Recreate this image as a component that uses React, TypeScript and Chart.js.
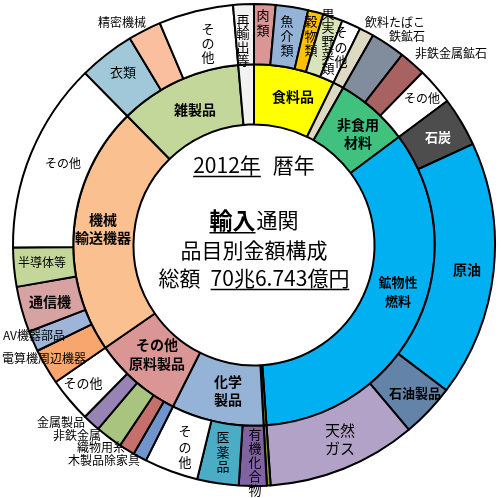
import React, { useEffect, useRef } from 'react';
import { Chart, registerables } from 'chart.js';
Chart.register(...registerables);

// ---- data (share of total, %) ----
const innerCategories = ['食料品', '飲料たばこ', '非食用材料', '鉱物性燃料', '動植物性油脂', '化学製品', 'その他原料製品', '機械輸送機器', '雑製品', '再輸出等'];
const innerValues = [7.25, 0.97, 6.59, 34.09, 0.25, 8.25, 7.98, 22.26, 10.97, 1.39];
const innerColors = ['#ffff00', '#ddd9c3', '#40c27e', '#00b0f0', '#8a9a3c', '#95b3d7', '#da9694', '#fac090', '#c4d79b', '#f2f2f2'];

const outerCategories = [
  '肉類', '魚介類', '穀物類', '果実野菜類', 'その他(食料)',
  '飲料たばこ',
  '鉄鉱石', '非鉄金属鉱石', 'その他(原料)',
  '石炭', '原油', '石油製品', '天然ガス',
  '動植物性油脂',
  '有機化合物', '医薬品', 'その他(化学)',
  '木製品除家具', '織物用糸', '非鉄金属', '金属製品', 'その他(原料製品)',
  '電算機周辺機器', 'AV機器部品', '通信機', '半導体等', 'その他(機械)',
  '衣類', '精密機械', 'その他(雑製品)',
  '再輸出等',
];
const outerValues = [
  1.44, 2.17, 1.03, 1.33, 1.28,
  0.97,
  2.31, 1.78, 2.5,
  3.31, 17.17, 3.61, 10.0,
  0.25,
  1.86, 2.78, 3.61,
  0.92, 1.06, 1.81, 1.19, 3.0,
  2.39, 1.39, 3.06, 2.61, 12.81,
  3.75, 2.22, 5.0,
  1.39,
];
const outerColors = [
  '#da9694', '#95b3d7', '#ffc000', '#d8e4bc', '#ffffff',
  '#ddd9c3',
  '#818d9d', '#a96262', '#ffffff',
  '#4d4d4d', '#00b0f0', '#6384a8', '#b3a2c7',
  '#8a9a3c',
  '#8064a2', '#4bacc6', '#ffffff',
  '#7094cc', '#c6706e', '#a9c47f', '#9884b4', '#ffffff',
  '#f8a66e', '#9fb4d9', '#d7a2a2', '#c4d79b', '#ffffff',
  '#a0c8d8', '#f9bf9f', '#ffffff',
  '#f2f2f2',
];

// ---- label layout (reference picture coords; converted relative to chart centre) ----
const REF_CX = 254;
const REF_CY = 245;
type Lbl = { t: string; x: number; y: number; size: number; bold?: boolean; color?: string; vertical?: boolean; step?: number; lh?: number };
const labels: Lbl[] = [
  // inner ring
  { t: '食料品', x: 293, y: 97, size: 14, bold: true },
  { t: '非食用\n材料', x: 358, y: 134, size: 14, bold: true, lh: 18 },
  { t: '鉱物性\n燃料', x: 398, y: 292, size: 13, bold: true, lh: 19 },
  { t: '化学\n製品', x: 228, y: 391, size: 14, bold: true, lh: 18 },
  { t: 'その他\n原料製品', x: 157, y: 354, size: 14, bold: true, lh: 19 },
  { t: '機械\n輸送機器', x: 103, y: 229, size: 14, bold: true, lh: 18 },
  { t: '雑製品', x: 195, y: 110, size: 14, bold: true },
  // outer ring
  { t: '再輸出等', x: 243, y: 40, size: 13, vertical: true, step: 13.5 },
  { t: '肉類', x: 263, y: 23, size: 13, vertical: true, step: 15 },
  { t: '魚介類', x: 287, y: 36, size: 13, vertical: true, step: 14.5 },
  { t: '穀物類', x: 311, y: 36, size: 13, vertical: true, step: 14.5 },
  { t: '果実野菜類', x: 328, y: 41, size: 13, vertical: true, step: 13.5 },
  { t: 'その他', x: 341, y: 47, size: 13, vertical: true, step: 14.5 },
  { t: '飲料たばこ', x: 395, y: 22, size: 12 },
  { t: '鉄鉱石', x: 407, y: 36, size: 12 },
  { t: '非鉄金属鉱石', x: 451, y: 53, size: 12 },
  { t: 'その他', x: 422, y: 98, size: 12 },
  { t: '石炭', x: 438, y: 137, size: 13, bold: true, color: '#ffffff' },
  { t: '原油', x: 467, y: 270, size: 14, bold: true },
  { t: '石油製品', x: 415, y: 393, size: 13, bold: true },
  { t: '天然\nガス', x: 340, y: 439, size: 15, lh: 18 },
  { t: '有機化合物', x: 255, y: 462, size: 13, vertical: true, step: 14 },
  { t: '医薬品', x: 223, y: 452, size: 13, vertical: true, step: 14.5 },
  { t: 'その他', x: 185, y: 447, size: 13, vertical: true, step: 15.5 },
  { t: '木製品除家具', x: 104, y: 460, size: 12 },
  { t: '織物用糸', x: 101, y: 447, size: 12 },
  { t: '非鉄金属', x: 77, y: 435, size: 12 },
  { t: '金属製品', x: 61, y: 422, size: 12 },
  { t: 'その他', x: 83, y: 383, size: 13 },
  { t: '電算機周辺機器', x: 44, y: 358, size: 12 },
  { t: 'AV機器部品', x: 34, y: 335, size: 12 },
  { t: '通信機', x: 50, y: 302, size: 14, bold: true },
  { t: '半導体等', x: 42, y: 262, size: 12 },
  { t: 'その他', x: 63, y: 163, size: 12 },
  { t: '衣類', x: 123, y: 72, size: 13 },
  { t: '精密機械', x: 122, y: 22, size: 12 },
  { t: 'その他', x: 208, y: 43, size: 13, vertical: true, step: 14 },
];

type Seg = { t: string; size: number; bold?: boolean; u?: boolean; gap?: number };
const centerLines: { y: number; segs: Seg[] }[] = [
  { y: 165, segs: [{ t: '2012年', size: 21, u: true }, { t: '暦年', size: 21, gap: 12 }] },
  { y: 220, segs: [{ t: '輸入', size: 23, bold: true, u: true }, { t: '通関', size: 21, gap: 1 }] },
  { y: 250, segs: [{ t: '品目別金額構成', size: 21 }] },
  { y: 278, segs: [{ t: '総額', size: 21 }, { t: '70兆6.743億円', size: 21, u: true, gap: 10 }] },
];

const FONT = "'Noto Sans CJK JP', 'Noto Sans', sans-serif";

const labelPlugin = {
  id: 'labelPlugin',
  afterDatasetsDraw(chart: any) {
    const ctx = chart.ctx as CanvasRenderingContext2D;
    const arc = chart.getDatasetMeta(0).data[0];
    const cx = arc.x;
    const cy = arc.y;
    ctx.save();
    ctx.textAlign = 'center';
    ctx.textBaseline = 'middle';
    for (const l of labels) {
      ctx.font = `${l.bold ? 'bold ' : ''}${l.size}px ${FONT}`;
      ctx.fillStyle = l.color || '#000000';
      const x = cx + (l.x - REF_CX);
      const y = cy + (l.y - REF_CY);
      if (l.vertical) {
        const chars = Array.from(l.t);
        const step = l.step || l.size + 1;
        const y0 = y - ((chars.length - 1) * step) / 2;
        chars.forEach((c, i) => ctx.fillText(c, x, y0 + i * step));
      } else {
        const lines = l.t.split('\n');
        const lh = l.lh || l.size + 4;
        const y0 = y - ((lines.length - 1) * lh) / 2;
        lines.forEach((s, i) => ctx.fillText(s, x, y0 + i * lh));
      }
    }
    // centre text
    ctx.textAlign = 'left';
    for (const line of centerLines) {
      let total = 0;
      const widths: number[] = [];
      for (const s of line.segs) {
        ctx.font = `${s.bold ? 'bold ' : ''}${s.size}px ${FONT}`;
        const w = ctx.measureText(s.t).width;
        widths.push(w);
        total += w + (s.gap || 0);
      }
      let x = cx - total / 2;
      const y = cy + (line.y - REF_CY);
      line.segs.forEach((s, i) => {
        x += s.gap || 0;
        ctx.font = `${s.bold ? 'bold ' : ''}${s.size}px ${FONT}`;
        ctx.fillStyle = '#000000';
        ctx.fillText(s.t, x, y);
        if (s.u) {
          ctx.strokeStyle = '#000000';
          ctx.lineWidth = 1.5;
          ctx.beginPath();
          ctx.moveTo(x, y + s.size * 0.55);
          ctx.lineTo(x + widths[i], y + s.size * 0.55);
          ctx.stroke();
        }
        x += widths[i];
      });
    }
    ctx.restore();
  },
};

export default function App() {
  const ref = useRef<HTMLCanvasElement | null>(null);
  useEffect(() => {
    if (!ref.current) return;
    const chart = new Chart(ref.current, {
      type: 'doughnut',
      data: {
        labels: outerCategories,
        datasets: [
          { label: 'outer', data: outerValues, backgroundColor: outerColors, borderColor: '#000000', borderWidth: 2 },
          { label: 'inner', data: innerValues, backgroundColor: innerColors, borderColor: '#000000', borderWidth: 2 },
        ],
      },
      options: {
        responsive: false,
        animation: false,
        cutout: '50%',
        rotation: 0,
        layout: { padding: { top: 3, bottom: 11, left: 12, right: 5 } },
        plugins: { legend: { display: false }, tooltip: { enabled: false } },
      },
      plugins: [labelPlugin],
    });
    return () => chart.destroy();
  }, []);
  return (
    <canvas
      ref={ref}
      width={501}
      height={498}
      style={{ position: 'fixed', left: 0, top: 0, width: 501, height: 498, background: '#ffffff' }}
    />
  );
}
